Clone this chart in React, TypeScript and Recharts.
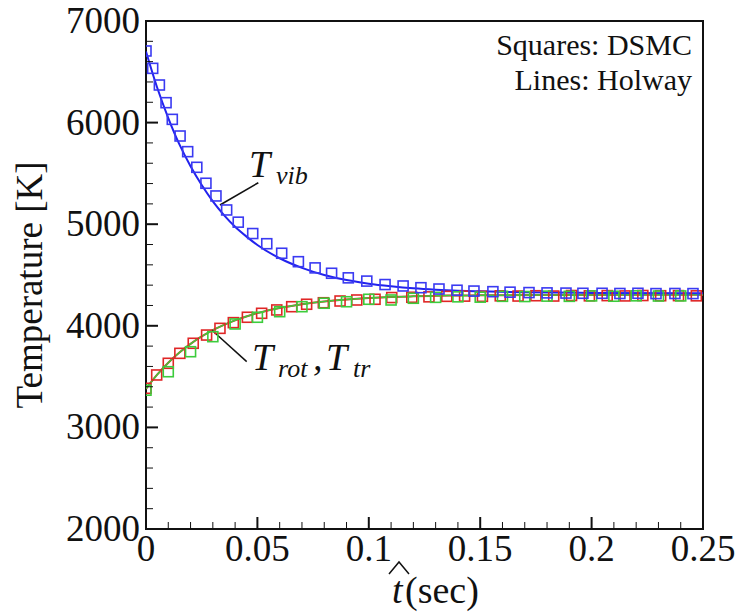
import React from 'react';
import {
  ComposedChart, Line, Scatter, XAxis, YAxis, ReferenceArea, ReferenceLine,
} from 'recharts';

// ---- DSMC squares ----
const vibSqT = [0, 0.003, 0.006, 0.009, 0.0118, 0.0153, 0.0187, 0.0228, 0.0269, 0.0314, 0.0362, 0.0414, 0.0479, 0.0542, 0.0609, 0.0684, 0.0759, 0.0833, 0.0908, 0.0991, 0.1073, 0.1154, 0.1234, 0.1315, 0.1396, 0.1472, 0.1557, 0.1634, 0.1719, 0.18, 0.1885, 0.1961, 0.2047, 0.2127, 0.2208, 0.2289, 0.2374, 0.2455];
const vibSqV = [6705, 6534, 6370, 6196, 6032, 5868, 5714, 5560, 5403, 5278, 5140, 5020, 4908, 4808, 4714, 4631, 4570, 4517, 4472, 4440, 4406, 4392, 4375, 4362, 4350, 4342, 4336, 4331, 4327, 4324, 4322, 4320, 4320, 4318, 4320, 4317, 4318, 4317];

const rotSqT = [0, 0.0048, 0.01, 0.0152, 0.0212, 0.0272, 0.0332, 0.0392, 0.0455, 0.0519, 0.0587, 0.0654, 0.0721, 0.0796, 0.0871, 0.0946, 0.1028, 0.1103, 0.1193, 0.127, 0.135, 0.143, 0.151, 0.159, 0.167, 0.175, 0.183, 0.191, 0.199, 0.207, 0.215, 0.223, 0.231, 0.239, 0.247];
const rotSqV = [3385, 3516, 3631, 3729, 3828, 3909, 3975, 4031, 4084, 4123, 4156, 4188, 4212, 4227, 4244, 4254, 4261, 4278, 4281, 4285, 4290, 4292, 4290, 4295, 4293, 4296, 4293, 4298, 4295, 4297, 4294, 4298, 4296, 4297, 4295];

const trSqT = [0, 0.01, 0.02, 0.03, 0.04, 0.05, 0.06, 0.07, 0.08, 0.09, 0.1, 0.11, 0.12, 0.13, 0.14, 0.15, 0.16, 0.17, 0.18, 0.19, 0.2, 0.21, 0.22, 0.23, 0.24];
const trSqV = [3366, 3548, 3745, 3893, 4018, 4084, 4139, 4188, 4222, 4237, 4261, 4254, 4271, 4280, 4285, 4282, 4290, 4288, 4292, 4290, 4294, 4291, 4295, 4293, 4294];

// ---- Holway lines ----
const lineT = [0, 0.005, 0.01, 0.015, 0.02, 0.025, 0.03, 0.035, 0.04, 0.045, 0.05, 0.06, 0.07, 0.08, 0.09, 0.1, 0.11, 0.12, 0.13, 0.14, 0.15, 0.17, 0.2, 0.25];
const vibLineV = [6700, 6345, 6045, 5785, 5570, 5385, 5225, 5090, 4975, 4880, 4795, 4665, 4570, 4500, 4450, 4415, 4390, 4370, 4356, 4346, 4339, 4330, 4324, 4320];
const rotLineV = [3380, 3519, 3637, 3737, 3822, 3895, 3957, 4009, 4054, 4092, 4125, 4176, 4213, 4240, 4259, 4273, 4283, 4290, 4295, 4298, 4300, 4302, 4304, 4305];

// ---- Axis ticks ----
const xTicks = [0, 0.01, 0.02, 0.03, 0.04, 0.05, 0.06, 0.07, 0.08, 0.09, 0.1, 0.11, 0.12, 0.13, 0.14, 0.15, 0.16, 0.17, 0.18, 0.19, 0.2, 0.21, 0.22, 0.23, 0.24, 0.25];
const xMajor = [0, 0.05, 0.1, 0.15, 0.2, 0.25];
const yTicks = [2000, 2200, 2400, 2600, 2800, 3000, 3200, 3400, 3600, 3800, 4000, 4200, 4400, 4600, 4800, 5000, 5200, 5400, 5600, 5800, 6000, 6200, 6400, 6600, 6800, 7000];
const yMajor = [2000, 3000, 4000, 5000, 6000, 7000];

const zip = (ts: number[], vs: number[]) => ts.map((t, i) => ({ t, T: vs[i] }));
const vibSq = zip(vibSqT, vibSqV);
const rotSq = zip(rotSqT, rotSqV);
const trSq = zip(trSqT, trSqV);
const vibLine = zip(lineT, vibLineV);
const rotLine = zip(lineT, rotLineV);

const BLUE = '#3a3af2';
const RED = '#e02626';
const GREEN = '#3ccc3c';
const FONT = 'Liberation Serif';

const square = (color: string) => (props: any) => {
  const { cx, cy } = props;
  if (cx == null || cy == null) return null;
  return <rect x={cx - 5} y={cy - 5} width={10} height={10} fill="none" stroke={color} strokeWidth={1.6} />;
};

const isMajor = (v: number, majors: number[]) => majors.some((m) => Math.abs(m - v) < 1e-9);

const XTick = (props: any) => {
  const { x, y, payload } = props;
  const v = payload.value;
  const major = isMajor(v, xMajor);
  return (
    <g>
      <line x1={x} y1={y} x2={x} y2={y - (major ? 12 : 7)} stroke="#111" strokeWidth={major ? 2 : 1} />
      {major && (
        <text x={x} y={y + 32} textAnchor="middle" fontFamily={FONT} fontSize={37} fill="#111">
          {String(Number(v.toFixed(2)))}
        </text>
      )}
    </g>
  );
};

const YTick = (props: any) => {
  const { x, y, payload } = props;
  const v = payload.value;
  const major = isMajor(v, yMajor);
  return (
    <g>
      <line x1={x} y1={y} x2={x + (major ? 12 : 7)} y2={y} stroke="#111" strokeWidth={major ? 2 : 1} />
      {major && (
        <text x={x - 6} y={y + 12} textAnchor="end" fontFamily={FONT} fontSize={37} fill="#111">
          {v}
        </text>
      )}
    </g>
  );
};

const T = (p: { x: number; y: number; size: number; italic?: boolean; anchor?: string; children: React.ReactNode; transform?: string }) => (
  <text
    x={p.x}
    y={p.y}
    fontFamily={FONT}
    fontSize={p.size}
    fontStyle={p.italic ? 'italic' : 'normal'}
    textAnchor={p.anchor || 'start'}
    transform={p.transform}
    fill="#111"
  >
    {p.children}
  </text>
);

export default function App() {
  return (
    <div style={{ position: 'absolute', left: 0, top: 0, width: 735, height: 615, background: '#fff', fontFamily: FONT }}>
      <ComposedChart width={735} height={615} margin={{ top: 21, right: 32, bottom: 0, left: 0 }} style={{ fontFamily: FONT }}>
        <XAxis
          type="number"
          dataKey="t"
          domain={[0, 0.25]}
          ticks={xTicks}
          interval={0}
          tickSize={0}
          tickMargin={0}
          tick={<XTick />}
          axisLine={false}
          height={86}
          allowDataOverflow
        />
        <YAxis
          type="number"
          dataKey="T"
          domain={[2000, 7000]}
          ticks={yTicks}
          interval={0}
          tickSize={0}
          tickMargin={0}
          tick={<YTick />}
          axisLine={false}
          width={146}
          allowDataOverflow
        />
        <ReferenceArea x1={0} x2={0.25} y1={2000} y2={7000} fill="none" stroke="#111" strokeWidth={2} fillOpacity={0} strokeOpacity={1} />
        <Scatter data={rotSq} dataKey="T" shape={square(RED)} isAnimationActive={false} />
        <Scatter data={trSq} dataKey="T" shape={square(GREEN)} isAnimationActive={false} />
        <Scatter data={vibSq} dataKey="T" shape={square(BLUE)} isAnimationActive={false} />
        <Line data={rotLine} dataKey="T" type="monotone" dot={false} stroke={RED} strokeWidth={2} isAnimationActive={false} />
        <Line data={rotLine} dataKey="T" type="monotone" dot={false} stroke={GREEN} strokeWidth={1.5} isAnimationActive={false} />
        <Line data={vibLine} dataKey="T" type="monotone" dot={false} stroke="#2222ee" strokeWidth={2} isAnimationActive={false} />
        <ReferenceLine segment={[{ x: 0.0332, y: 5189 }, { x: 0.0504, y: 5408 }]} stroke="#111" strokeWidth={1.5} />
        <ReferenceLine segment={[{ x: 0.0295, y: 3959 }, { x: 0.0452, y: 3647 }]} stroke="#111" strokeWidth={1.5} />
      </ComposedChart>
      <svg width={735} height={615} style={{ position: 'absolute', left: 0, top: 0, pointerEvents: 'none' }}>
        <T x={692} y={55} size={30} anchor="end">Squares: DSMC</T>
        <T x={692} y={90} size={30} anchor="end">Lines: Holway</T>
        <T x={42} y={285} size={37} anchor="middle" transform="rotate(-90 42 285)">Temperature [K]</T>
        <T x={249} y={177} size={38} italic>T</T>
        <T x={276} y={184} size={26} italic>vib</T>
        <T x={252} y={370} size={38} italic>T</T>
        <T x={278} y={377} size={26} italic>rot</T>
        <T x={313} y={370} size={38} italic>,</T>
        <T x={326} y={370} size={38} italic>T</T>
        <T x={353} y={377} size={26} italic>tr</T>
        <T x={392} y={603} size={38} italic>t</T>
        <T x={405} y={603} size={38}>(sec)</T>
        <path d="M 389 574 L 399 562 L 409 574" fill="none" stroke="#111" strokeWidth={1.5} />
      </svg>
    </div>
  );
}
